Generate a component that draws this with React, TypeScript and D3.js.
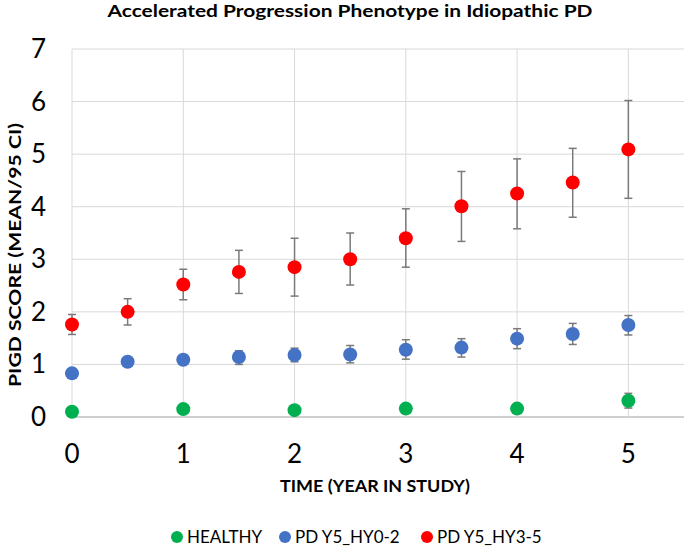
import React, { useEffect, useRef } from "react";
import * as d3 from "d3";

// time points (year in study)
const halfYears = [0, 0.5, 1, 1.5, 2, 2.5, 3, 3.5, 4, 4.5, 5];
const wholeYears = [0, 1, 2, 3, 4, 5];

// HEALTHY
const healthyMean = [0.1, 0.15, 0.13, 0.16, 0.16, 0.31];
const healthyLow = [0.1, 0.15, 0.13, 0.16, 0.16, 0.17];
const healthyHigh = [0.1, 0.15, 0.13, 0.16, 0.16, 0.45];

// PD Y5_HY0-2
const hy02Mean = [0.83, 1.05, 1.09, 1.14, 1.18, 1.19, 1.28, 1.32, 1.49, 1.58, 1.75];
const hy02Low = [0.83, 1.05, 1.09, 1.0, 1.05, 1.03, 1.1, 1.14, 1.3, 1.38, 1.56];
const hy02High = [0.83, 1.05, 1.09, 1.26, 1.31, 1.36, 1.47, 1.49, 1.68, 1.78, 1.93];

// PD Y5_HY3-5
const hy35Mean = [1.76, 2.0, 2.52, 2.76, 2.85, 3.0, 3.4, 4.01, 4.25, 4.46, 5.09];
const hy35Low = [1.57, 1.75, 2.23, 2.35, 2.3, 2.51, 2.85, 3.34, 3.58, 3.8, 4.16];
const hy35High = [1.95, 2.25, 2.81, 3.17, 3.4, 3.5, 3.96, 4.67, 4.91, 5.11, 6.02];

const xTicks = [0, 1, 2, 3, 4, 5];
const yTicks = [0, 1, 2, 3, 4, 5, 6, 7];

const seriesNames = ["HEALTHY", "PD Y5_HY0-2", "PD Y5_HY3-5"];
const seriesColors = ["#00b050", "#4472c4", "#ff0000"];

const App = () => {
  const svgRef = useRef<SVGSVGElement | null>(null);
  const width = 685;
  const height = 546;
  const margin = { top: 49, right: 1, bottom: 129, left: 72 };
  const font = "Lato, 'Open Sans', sans-serif";

  useEffect(() => {
    const svg = d3.select(svgRef.current).attr("width", width).attr("height", height);
    svg.selectAll("*").remove();

    const x = d3.scaleLinear().domain([0, 5.5]).range([margin.left, width - margin.right]);
    const y = d3.scaleLinear().domain([0, 7]).range([height - margin.bottom, margin.top]);

    // gridlines
    const grid = svg.append("g");
    grid
      .selectAll("line.h")
      .data(yTicks)
      .enter()
      .append("line")
      .attr("x1", x(0))
      .attr("x2", x(5.5))
      .attr("y1", (d) => y(d))
      .attr("y2", (d) => y(d))
      .attr("stroke", (d) => (d === 0 ? "#bfbfbf" : "#d9d9d9"))
      .attr("stroke-width", (d) => (d === 0 ? 1.5 : 1));
    grid
      .selectAll("line.v")
      .data(xTicks)
      .enter()
      .append("line")
      .attr("x1", (d) => x(d))
      .attr("x2", (d) => x(d))
      .attr("y1", y(7))
      .attr("y2", y(0))
      .attr("stroke", "#d9d9d9")
      .attr("stroke-width", 1);

    // tick labels
    svg
      .append("g")
      .selectAll("text")
      .data(yTicks)
      .enter()
      .append("text")
      .attr("x", 46)
      .attr("y", (d) => y(d) + 9)
      .attr("text-anchor", "end")
      .style("font-family", font)
      .style("font-size", "26px")
      .attr("fill", "#000")
      .text((d) => d);
    svg
      .append("g")
      .selectAll("text")
      .data(xTicks)
      .enter()
      .append("text")
      .attr("x", (d) => x(d))
      .attr("y", 463)
      .attr("text-anchor", "middle")
      .style("font-family", font)
      .style("font-size", "26px")
      .attr("fill", "#000")
      .text((d) => d);

    const series = [
      { xs: wholeYears, mean: healthyMean, low: healthyLow, high: healthyHigh },
      { xs: halfYears, mean: hy02Mean, low: hy02Low, high: hy02High },
      { xs: halfYears, mean: hy35Mean, low: hy35Low, high: hy35High },
    ];

    series.forEach((s, si) => {
      const pts = s.xs.map((t, i) => ({ t, m: s.mean[i], lo: s.low[i], hi: s.high[i] }));
      const g = svg.append("g");
      const bars = g
        .selectAll("g.err")
        .data(pts.filter((p) => p.hi - p.lo > 0.01))
        .enter()
        .append("g")
        .attr("stroke", "#7a7a7a")
        .attr("stroke-width", 1.5);
      bars
        .append("line")
        .attr("x1", (p) => x(p.t))
        .attr("x2", (p) => x(p.t))
        .attr("y1", (p) => y(p.lo))
        .attr("y2", (p) => y(p.hi));
      [0, 1].forEach((k) => {
        bars
          .append("line")
          .attr("x1", (p) => x(p.t) - 4)
          .attr("x2", (p) => x(p.t) + 4)
          .attr("y1", (p) => y(k ? p.hi : p.lo))
          .attr("y2", (p) => y(k ? p.hi : p.lo));
      });
      g.selectAll("circle")
        .data(pts)
        .enter()
        .append("circle")
        .attr("cx", (p) => x(p.t))
        .attr("cy", (p) => y(p.m))
        .attr("r", 7)
        .attr("fill", seriesColors[si]);
    });

    // title
    svg
      .append("text")
      .attr("x", 350)
      .attr("y", 17)
      .attr("text-anchor", "middle")
      .attr("textLength", 485)
      .attr("lengthAdjust", "spacingAndGlyphs")
      .style("font-family", font)
      .style("font-size", "17px")
      .style("font-weight", "bold")
      .attr("fill", "#000")
      .text("Accelerated Progression Phenotype in Idiopathic PD");

    // axis titles
    svg
      .append("text")
      .attr("x", (x(0) + x(5.5)) / 2 - 3)
      .attr("y", 492)
      .attr("text-anchor", "middle")
      .attr("textLength", 190)
      .attr("lengthAdjust", "spacingAndGlyphs")
      .style("font-family", font)
      .style("font-size", "17px")
      .style("font-weight", "bold")
      .attr("fill", "#000")
      .text("TIME (YEAR IN STUDY)");
    svg
      .append("text")
      .attr("transform", `translate(21,${255}) rotate(-90)`)
      .attr("text-anchor", "middle")
      .attr("textLength", 264)
      .attr("lengthAdjust", "spacingAndGlyphs")
      .style("font-family", font)
      .style("font-size", "17px")
      .style("font-weight", "bold")
      .attr("fill", "#000")
      .text("PIGD SCORE (MEAN/95 CI)");

    // legend
    const legendX = [177, 285, 427];
    const legend = svg
      .append("g")
      .selectAll("g")
      .data(seriesNames)
      .enter()
      .append("g")
      .attr("transform", (d, i) => `translate(${legendX[i]},537)`);
    legend
      .append("circle")
      .attr("r", 6)
      .attr("fill", (d, i) => seriesColors[i]);
    legend
      .append("text")
      .attr("x", 10)
      .attr("y", 6)
      .style("font-family", font)
      .style("font-size", "17px")
      .attr("fill", "#000")
      .text((d) => d);
  }, []);

  return (
    <svg
      ref={svgRef}
      style={{ position: "absolute", left: 0, top: 0, display: "block", background: "#fff" }}
    ></svg>
  );
};

export default App;
